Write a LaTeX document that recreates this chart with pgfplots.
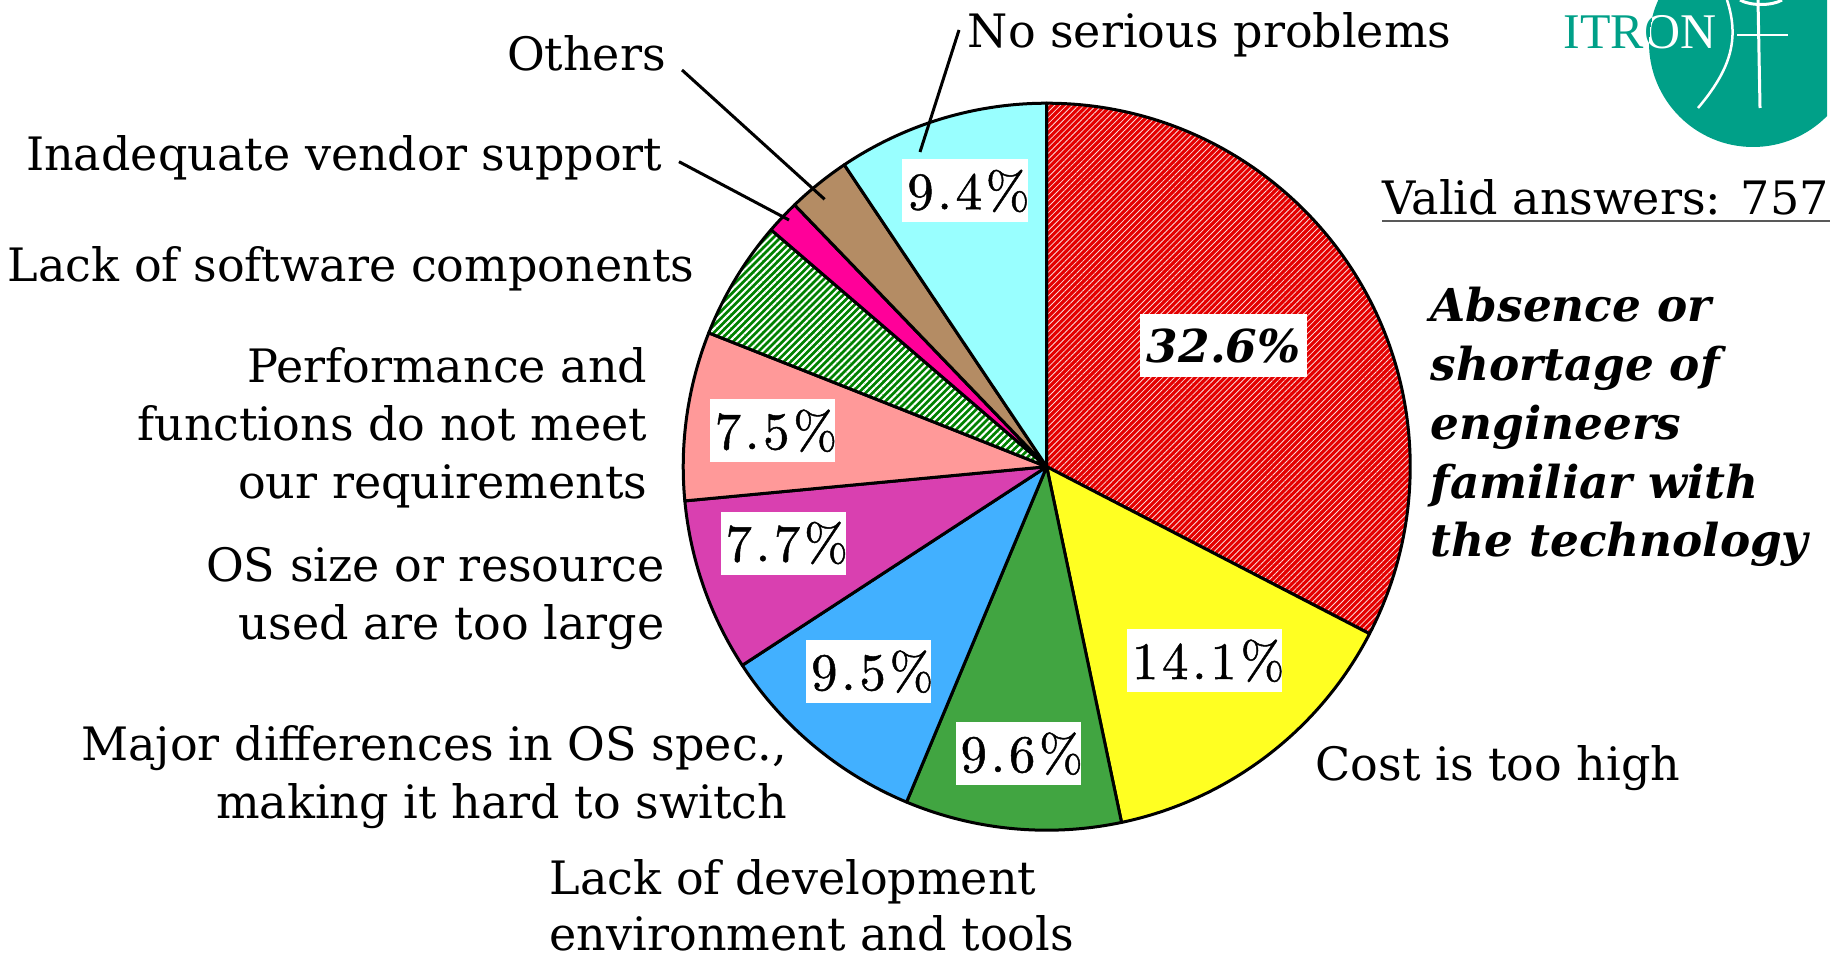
\documentclass[border=0pt]{standalone}
\usepackage{pgfplots}
\pgfplotsset{compat=1.18}
\usetikzlibrary{patterns.meta}
\usepackage{fontspec}
\newfontfamily\dv{DejaVu Serif}
\newfontfamily\tm{Liberation Serif}
\newfontfamily\lmpct{lmroman10-regular.otf}[FakeBold=0.9,LetterSpace=7]
\newcommand\labfont{\dv\fontsize{13.1pt}{16pt}\selectfont}
\newcommand\boldlab{\dv\bfseries\itshape\fontsize{12.9pt}{16pt}\selectfont}
\newcommand\pctfont{\lmpct\fontsize{15pt}{18pt}\selectfont}
\definecolor{hred}{RGB}{228,0,0}
\definecolor{cyel}{RGB}{255,255,34}
\definecolor{cgrn}{RGB}{65,165,65}
\definecolor{cblu}{RGB}{66,176,255}
\definecolor{cmag}{RGB}{217,64,176}
\definecolor{cpnk}{RGB}{255,153,153}
\definecolor{hgrn}{RGB}{0,130,0}
\definecolor{cven}{RGB}{255,0,153}
\definecolor{cbrn}{RGB}{180,140,100}
\definecolor{ccyn}{RGB}{153,255,255}
\definecolor{teal}{RGB}{0,160,136}
\newcommand\slice[2]{%
  \filldraw[#2, draw=black, line width=0.3mm, line join=round]
    (axis cs:1046.7,466.7) -- ++(\csname sa#1\endcsname:36.35mm)
    arc[start angle=\csname sa#1\endcsname, end angle=\csname sb#1\endcsname, radius=36.35mm] -- cycle;}
\newcommand\lab[3]{\node[anchor=#1,inner sep=0pt,font=\labfont] at (axis cs:#2) {#3};}
\newcommand\blab[2]{\node[anchor=base west,inner sep=0pt,font=\boldlab] at (axis cs:#1) {#2};}
\newcommand\pct[2]{\node[fill=white,inner xsep=0.5mm,inner ysep=0pt,minimum height=6.3mm,font=\pctfont] at (axis cs:#1) {#2\kern-0.7mm};}
\begin{document}
\begin{tikzpicture}
\gdef\cum{0}
\foreach \v [count=\i] in {32.6,14.1,9.6,9.5,7.7,7.5,5.3,1.5,2.8,9.4} {%
  \pgfmathsetmacro\a{90-3.6*\cum}%
  \pgfmathsetmacro\b{90-3.6*(\cum+\v)}%
  \pgfmathsetmacro\c{\cum+\v}%
  \expandafter\xdef\csname sa\i\endcsname{\a}%
  \expandafter\xdef\csname sb\i\endcsname{\b}%
  \xdef\cum{\c}%
}
\begin{axis}[width=184.5mm,height=95.8mm,scale only axis,
  xmin=0,xmax=1845,ymin=0,ymax=958,y dir=reverse,hide axis,clip=false]
\coordinate (BL) at (axis cs:0,958);
\coordinate (TR) at (axis cs:1845,0);
% logo
\begin{scope}
\clip (axis cs:1540,0) rectangle (axis cs:1827,200);
\fill[teal] (axis cs:1753,43) circle[radius=10.4mm];
\end{scope}
\node[anchor=base west,inner sep=0pt,text=teal,font=\tm\fontsize{14.2pt}{16pt}\selectfont] at (axis cs:1563,48.3) {ITRON};
\begin{scope}
\clip (axis cs:1753,43) circle[radius=10.4mm];
\node[anchor=base west,inner sep=0pt,text=white,font=\tm\fontsize{14.2pt}{16pt}\selectfont] at (axis cs:1563,48.3) {ITRON};
\end{scope}
\draw[white,line width=0.3mm] (axis cs:1758,0) -- (axis cs:1760,108);
\draw[white,line width=0.2mm] (axis cs:1737,35) -- (axis cs:1788,35);
\draw[white,line width=0.25mm] (axis cs:1727,0) .. controls (axis cs:1740,40) and (axis cs:1730,70) .. (axis cs:1698,108);
\draw[white,line width=0.3mm] (axis cs:1740,0) .. controls (axis cs:1750,6) and (axis cs:1772,6) .. (axis cs:1782,0);
% pie
\slice{1}{preaction={fill=hred}, pattern={Lines[angle=45,distance=0.42mm,line width=0.08mm]}, pattern color=white!85!hred}
\slice{2}{fill=cyel}
\slice{3}{fill=cgrn}
\slice{4}{fill=cblu}
\slice{5}{fill=cmag}
\slice{6}{fill=cpnk}
\slice{7}{preaction={fill=hgrn}, pattern={Lines[angle=45,distance=0.5mm,line width=0.2mm]}, pattern color=white}
\slice{8}{fill=cven}
\slice{9}{fill=cbrn}
\slice{10}{fill=ccyn}
% percentages
\node[fill=white,inner xsep=0.7mm,inner ysep=0pt,minimum height=6.3mm,font=\boldlab] at (axis cs:1223.7,345.7) {32.6\%};
\pct{1204.7,660.8}{14.1\%}
\pct{1018.3,753.7}{9.6\%}
\pct{868.8,671.7}{9.5\%}
\pct{783.3,543}{7.7\%}
\pct{772.5,430.8}{7.5\%}
\pct{965,191}{9.4\%}
% leader lines
\draw[line width=0.3mm] (axis cs:959,30) -- (axis cs:920,152);
\draw[line width=0.3mm] (axis cs:682,70) -- (axis cs:824.6,199.3);
\draw[line width=0.3mm] (axis cs:679,161.7) -- (axis cs:789,220);
% labels
\lab{base west}{967,47.7}{No serious problems}
\lab{base east}{666.5,70.7}{Others}
\lab{base east}{663,170.7}{Inadequate vendor support}
\lab{base east}{695,281.7}{Lack of software components}
\lab{base east}{648,382}{Performance and}
\lab{base east}{648,440}{functions do not meet}
\lab{base east}{648,498}{our requirements}
\lab{base east}{665,581}{OS size or resource}
\lab{base east}{665,639}{used are too large}
\lab{base east}{788,760}{Major differences in OS spec.,}
\lab{base east}{788,818}{making it hard to switch}
\lab{base west}{549,894}{Lack of development}
\lab{base west}{549,950}{environment and tools}
\lab{base west}{1315,780}{Cost is too high}
\blab{1430,321.7}{Absence or}
\blab{1430,380.5}{shortage of}
\blab{1430,439.3}{engineers}
\blab{1430,498.1}{familiar with}
\blab{1430,556.9}{the technology}
\lab{base west}{1382,215}{Valid answers: 757}
\draw[black!65,line width=0.2mm] (axis cs:1382,221) -- (axis cs:1830,221);
\end{axis}
\pgfresetboundingbox
\path[use as bounding box] (BL) rectangle (TR);
\end{tikzpicture}
\end{document}
